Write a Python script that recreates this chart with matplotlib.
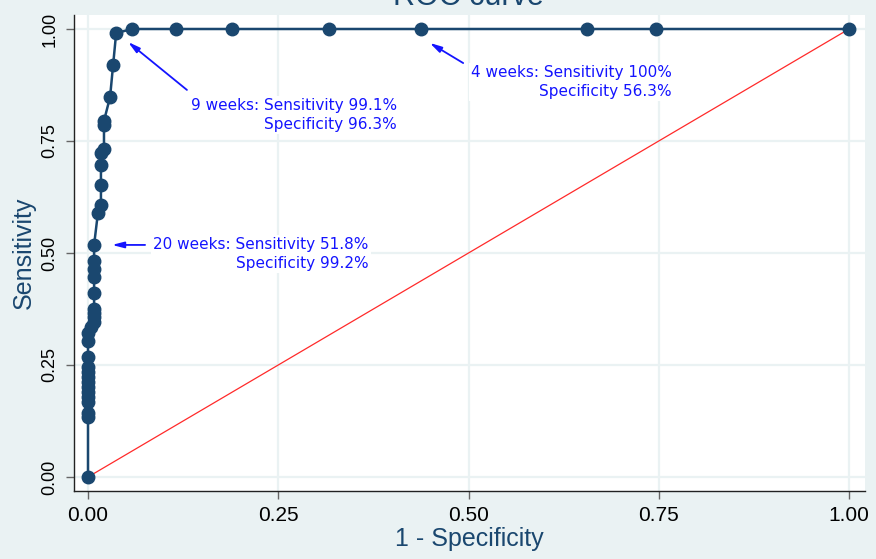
import matplotlib
matplotlib.use("Agg")
import matplotlib.pyplot as plt

# ROC data: 1 - specificity (fpr) and sensitivity (tpr)
fpr = [0, 0, 0, 0, 0, 0, 0, 0, 0, 0, 0, 0, 0, 0,
       0.004, 0.008, 0.008, 0.008, 0.008, 0.008, 0.008, 0.008, 0.008, 0.008,
       0.013, 0.017, 0.017, 0.017, 0.017, 0.021, 0.021, 0.021,
       0.029, 0.033, 0.037,
       0.058, 0.116, 0.189, 0.317, 0.437, 0.656, 0.746, 1.0]
tpr = [0.0, 0.134, 0.143, 0.168, 0.179, 0.190, 0.201, 0.212, 0.223, 0.234, 0.245, 0.268, 0.304, 0.321,
       0.335, 0.347, 0.357, 0.366, 0.375, 0.411, 0.446, 0.464, 0.482, 0.518,
       0.589, 0.607, 0.652, 0.696, 0.723, 0.732, 0.786, 0.795,
       0.848, 0.920, 0.991,
       1.0, 1.0, 1.0, 1.0, 1.0, 1.0, 1.0, 1.0]

ref_x = [0, 1]
ref_y = [0, 1]

ticks = [0.0, 0.25, 0.5, 0.75, 1.0]
tick_labels = ["0.00", "0.25", "0.50", "0.75", "1.00"]

annotations = [
    ("9 weeks: Sensitivity 99.1%\nSpecificity 96.3%", (0.0526, 0.971), (0.406, 0.808)),
    ("4 weeks: Sensitivity 100%\nSpecificity 56.3%", (0.449, 0.969), (0.767, 0.882)),
    ("20 weeks: Sensitivity 51.8%\nSpecificity 99.2%", (0.0315, 0.518), (0.369, 0.498)),
]
arrow_tails = [(0.130, 0.864), (0.493, 0.924), (0.075, 0.518)]

bg = "#EAF2F3"
navy = "#1A476F"

fig = plt.figure(figsize=(8.76, 5.59), dpi=100, facecolor=bg)
ax = fig.add_axes([74/876, 1 - 491/559, (865 - 74)/876, (491 - 15)/559])
ax.set_facecolor("white")

ax.set_xlim(-0.0184, 1.021)
ax.set_ylim(-0.03125, 1.03125)

for t in ticks:
    ax.axhline(t, color=bg, lw=1.6, zorder=0)
    ax.axvline(t, color=bg, lw=1.6, zorder=0)

ax.plot(ref_x, ref_y, color="#FF2A2A", lw=0.9, zorder=2)
ax.plot(fpr, tpr, color=navy, lw=1.8, marker="o", markersize=9,
        markerfacecolor=navy, markeredgecolor=navy, zorder=3)

for (txt, tip, pos), tail in zip(annotations, arrow_tails):
    ax.text(pos[0], pos[1], txt, color="#1414FF", fontsize=11, ha="right", va="center",
            multialignment="right", family="DejaVu Sans", linespacing=1.3,
            bbox=dict(facecolor="white", edgecolor="none", pad=1.5), zorder=4)
    ax.annotate("", xy=tip, xytext=tail,
                arrowprops=dict(arrowstyle="-|>,head_length=0.7,head_width=0.18",
                                color="#1414FF", lw=1.3, shrinkA=0, shrinkB=0), zorder=5)

for s in ["top", "right"]:
    ax.spines[s].set_visible(False)
ax.spines["left"].set_color("#222222")
ax.spines["bottom"].set_color("#222222")
ax.spines["left"].set_linewidth(1.0)
ax.spines["bottom"].set_linewidth(1.0)

ax.set_xticks(ticks)
ax.set_xticklabels(tick_labels, fontsize=15, family=["Liberation Sans", "DejaVu Sans"])
ax.set_yticks(ticks)
ax.set_yticklabels(tick_labels, fontsize=13, rotation=90, va="center",
                   family=["Liberation Sans Narrow", "Liberation Sans", "DejaVu Sans"])
ax.tick_params(axis="both", direction="out", length=6, width=1, color="#666666", pad=5)

ax.set_xlabel("1 - Specificity", fontsize=18, color=navy, family=["Liberation Sans", "DejaVu Sans"], labelpad=1)
ax.set_ylabel("Sensitivity", fontsize=18, color=navy, family=["Liberation Sans", "DejaVu Sans"], labelpad=4)

fig.text(0.535, 1 - 5/559, "ROC curve", fontsize=22, color=navy, ha="center", va="baseline",
         family=["Liberation Sans", "DejaVu Sans"])

fig.savefig("out.png", dpi=100, facecolor=bg)
